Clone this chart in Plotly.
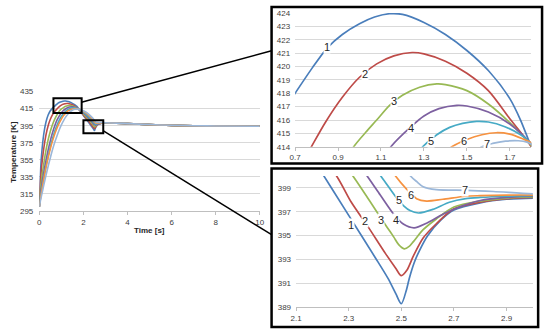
import plotly.graph_objects as go

# ---------------- data ----------------
t1 = [0, 0.05, 0.1, 0.2, 0.3, 0.4, 0.5, 0.6, 0.7, 0.78, 0.85, 0.92, 1.0, 1.07, 1.14, 1.2, 1.3, 1.4, 1.5, 1.6, 1.7, 1.75, 1.8,
      2.0, 2.2, 2.3, 2.4, 2.45, 2.48, 2.5, 2.52, 2.53, 2.55, 2.57, 2.6, 2.65, 2.7, 2.8, 2.9, 3.0, 3.5, 4, 5, 6, 7, 8, 10]
T1 = [300, 338, 360, 385, 399, 407.5, 412.5, 415.6, 418.0, 419.9, 421.4, 422.4, 423.2, 423.7, 423.95, 423.9, 423.3, 422.4,
      421.2, 419.7, 417.6, 416.0, 414.0, 407.0, 400.2, 396.7, 393.2, 391.4, 390.1, 389.3, 390.5, 391.4, 392.8, 393.8, 395.0,
      396.3, 397.15, 397.75, 398.05, 398.15, 397.95, 397.4, 396.3, 395.4, 394.9, 394.6, 394.3]

t2 = [0, 0.05, 0.1, 0.2, 0.3, 0.4, 0.5, 0.6, 0.7, 0.776, 0.84, 0.92, 1.0, 1.08, 1.16, 1.245, 1.3, 1.4, 1.5, 1.6, 1.7, 1.8,
      2.0, 2.254, 2.31, 2.372, 2.44, 2.478, 2.5, 2.521, 2.546, 2.583, 2.633, 2.7, 2.8, 2.9, 3.0, 3.5, 4, 5, 6, 7, 8, 10]
T2 = [300, 330, 346, 368, 384, 395, 402.5, 408, 411.8, 414.0, 415.8, 417.7, 419.2, 420.2, 420.8, 421.05, 420.95, 420.4,
      419.5, 418.2, 416.1, 414.0, 407.7, 400.0, 397.8, 395.8, 393.5, 392.3, 391.65, 392.1, 393.3, 394.8, 396.0, 397.25,
      397.8, 398.1, 398.2, 398.0, 397.4, 396.3, 395.4, 394.9, 394.6, 394.3]

t3 = [0, 0.05, 0.1, 0.2, 0.3, 0.4, 0.5, 0.6, 0.7, 0.8, 0.9, 0.973, 1.03, 1.08, 1.14, 1.2, 1.28, 1.36, 1.4, 1.5, 1.6, 1.7,
      1.8, 2.0, 2.2, 2.316, 2.38, 2.44, 2.471, 2.49, 2.511, 2.53, 2.546, 2.583, 2.633, 2.7, 2.8, 2.9, 3.0, 3.5, 4, 5, 6, 7,
      8, 10]
T3 = [300, 320, 332, 350, 366, 378.5, 388.5, 396.5, 402.8, 407.8, 411.8, 414.0, 415.1, 416.0, 417.1, 417.85, 418.45, 418.7,
      418.65, 418.2, 417.2, 415.8, 414.1, 408.8, 403.4, 400.0, 397.9, 395.9, 394.9, 394.25, 393.9, 394.1, 394.5, 395.5,
      396.4, 397.4, 397.9, 398.15, 398.25, 398.0, 397.4, 396.3, 395.4, 394.9, 394.6, 394.3]

t4 = [0, 0.05, 0.1, 0.2, 0.3, 0.4, 0.5, 0.6, 0.7, 0.8, 0.9, 1.0, 1.07, 1.146, 1.24, 1.3, 1.37, 1.453, 1.5, 1.6, 1.7, 1.8,
      2.0, 2.2, 2.37, 2.42, 2.471, 2.509, 2.549, 2.596, 2.658, 2.72, 2.8, 2.9, 3.0, 3.5, 4, 5, 6, 7, 8, 10]
T4 = [300, 314, 324, 340, 354, 366.5, 377.5, 387, 395, 401.5, 406.3, 410.0, 412.2, 414.0, 415.5, 416.3, 416.85, 417.1,
      417.05, 416.6, 415.7, 414.2, 409.9, 405.1, 400.0, 398.4, 396.8, 395.95, 395.66, 396.05, 396.8, 397.4, 397.95,
      398.2, 398.3, 398.0, 397.4, 396.3, 395.4, 394.9, 394.6, 394.3]

t5 = [0, 0.05, 0.1, 0.2, 0.3, 0.4, 0.5, 0.6, 0.7, 0.8, 0.9, 1.0, 1.1, 1.2, 1.294, 1.36, 1.42, 1.48, 1.545, 1.6, 1.677,
      1.75, 1.8, 2.0, 2.2, 2.422, 2.484, 2.509, 2.533, 2.565, 2.62, 2.683, 2.745, 2.8, 2.9, 3.0, 3.5, 4, 5, 6, 7, 8, 10]
T5 = [300, 311, 319, 334, 347.5, 359.5, 370.5, 380, 388.5, 395.5, 401.3, 405.8, 409.3, 412.0, 414.0, 414.9, 415.45,
      415.75, 415.9, 415.85, 415.5, 414.9, 414.25, 410.9, 406.5, 400.0, 398.1, 397.5, 397.1, 396.9, 397.2, 397.8, 398.1,
      398.2, 398.3, 398.35, 398.0, 397.4, 396.3, 395.4, 394.9, 394.6, 394.3]

t6 = [0, 0.05, 0.1, 0.2, 0.3, 0.4, 0.5, 0.6, 0.7, 0.8, 0.9, 1.0, 1.1, 1.2, 1.3, 1.43, 1.5, 1.57, 1.636, 1.7, 1.76, 1.8,
      2.0, 2.2, 2.35, 2.478, 2.52, 2.558, 2.596, 2.658, 2.745, 2.8, 2.9, 3.0, 3.5, 4, 5, 6, 7, 8, 10]
T6 = [300, 309, 317, 332, 345.5, 357.5, 368, 377.2, 385.3, 392.2, 398, 402.8, 406.8, 410.0, 412.3, 414.0, 414.55, 414.9,
      415.05, 414.95, 414.6, 414.3, 412.0, 408.4, 404.4, 400.0, 398.9, 398.1, 397.9, 398.05, 398.3, 398.35, 398.4, 398.4,
      398.0, 397.4, 396.3, 395.4, 394.9, 394.6, 394.3]

t7 = [0, 0.05, 0.1, 0.2, 0.3, 0.4, 0.5, 0.6, 0.7, 0.8, 0.9, 1.0, 1.1, 1.2, 1.3, 1.4, 1.5, 1.57, 1.62, 1.68, 1.74, 1.78,
      1.8, 2.0, 2.2, 2.4, 2.5, 2.535, 2.56, 2.583, 2.633, 2.75, 2.85, 3.0, 3.5, 4, 5, 6, 7, 8, 10]
T7 = [300, 307, 313, 325, 336.5, 347.5, 357.5, 367, 375.5, 383, 390, 396, 401, 405.3, 408.8, 411.5, 413.2, 414.0, 414.25,
      414.42, 414.45, 414.35, 414.2, 412.5, 409.5, 404.5, 401.2, 400.0, 399.5, 399.1, 398.85, 398.8, 398.7, 398.5, 398.05,
      397.45, 396.35, 395.45, 394.95, 394.65, 394.35]

series_names = ["1", "2", "3", "4", "5", "6", "7"]
series_t = [t1, t2, t3, t4, t5, t6, t7]
series_T = [T1, T2, T3, T4, T5, T6, T7]
colors = ["#4A7EBB", "#BE4B48", "#98B954", "#7D60A0", "#46AAC5", "#F69240", "#9BB7D9"]

main_xticks = [0, 2, 4, 6, 8, 10]
main_yticks = [295, 315, 335, 355, 375, 395, 415, 435]
top_xticks = [0.7, 0.9, 1.1, 1.3, 1.5, 1.7]
top_yticks = [414, 415, 416, 417, 418, 419, 420, 421, 422, 423, 424]
bot_xticks = [2.1, 2.3, 2.5, 2.7, 2.9]
bot_yticks = [389, 391, 393, 395, 397, 399]

# label positions on the curves
top_label_x = [0.849, 1.027, 1.161, 1.24, 1.332, 1.487, 1.595]
top_label_y = [421.45, 419.46, 417.4, 415.4, 414.44, 414.44, 414.2]
bot_label_x = [2.31, 2.361, 2.424, 2.479, 2.49, 2.537, 2.742]
bot_label_y = [395.92, 396.2, 396.28, 396.33, 398.0, 398.42, 398.83]

# ---------------- figure ----------------
W, H = 550, 336
FONT = "Liberation Sans"
fig = go.Figure()

for ax in ["", "2", "3"]:
    for name, t, T, c in zip(series_names, series_t, series_T, colors):
        fig.add_trace(go.Scatter(
            x=t, y=T, mode="lines", name=name, showlegend=False,
            line=dict(color=c, width=1.6 if ax == "" else 1.7, shape="spline", smoothing=0.8),
            xaxis="x" + ax, yaxis="y" + ax, hoverinfo="skip"))


def px(x):
    return x / W


def py(y):
    return 1 - y / H


tickfont = dict(family=FONT, size=8, color="#404040")
grid = "#D9D9D9"

fig.update_layout(
    width=W, height=H, margin=dict(l=0, r=0, t=0, b=0),
    paper_bgcolor="white", plot_bgcolor="white", showlegend=False,
    xaxis=dict(domain=[px(34), px(259)], range=[0, 10], tickvals=main_xticks,
               ticktext=[str(v) for v in main_xticks], showgrid=False, zeroline=False,
               showline=True, linecolor="#BFBFBF", linewidth=1, ticks="outside", ticklen=3,
               tickcolor="#BFBFBF", tickfont=tickfont, anchor="y"),
    yaxis=dict(domain=[py(212.7), py(90)], range=[295, 435], tickvals=main_yticks,
               ticktext=[str(v) for v in main_yticks], showgrid=True, gridcolor=grid, gridwidth=1,
               zeroline=False, showline=False, ticks="", tickfont=tickfont, anchor="x",
               ticklabelstandoff=5),
    xaxis2=dict(domain=[px(295), px(536)], range=[0.7, 1.8], tickvals=top_xticks,
                ticktext=["0.7", "0.9", "1.1", "1.3", "1.5", "1.7"], showgrid=False, zeroline=False,
                showline=True, linecolor="#BFBFBF", ticks="outside", ticklen=3, tickcolor="#BFBFBF",
                tickfont=tickfont, anchor="y2"),
    yaxis2=dict(domain=[py(146.7), py(9.3)], range=[414, 424], tickvals=top_yticks,
                ticktext=[str(v) for v in top_yticks], showgrid=True, gridcolor=grid, zeroline=False,
                showline=False, ticks="", tickfont=tickfont, anchor="x2", ticklabelstandoff=4),
    xaxis3=dict(domain=[px(296), px(537.6)], range=[2.1, 3.0], tickvals=bot_xticks,
                ticktext=["2.1", "2.3", "2.5", "2.7", "2.9"], showgrid=False, zeroline=False,
                showline=True, linecolor="#BFBFBF", ticks="outside", ticklen=3, tickcolor="#BFBFBF",
                tickfont=tickfont, anchor="y3"),
    yaxis3=dict(domain=[py(311.7), py(176.7)], range=[389, 400], tickvals=bot_yticks,
                ticktext=[str(v) for v in bot_yticks], showgrid=True, gridcolor=grid, zeroline=False,
                showline=False, ticks="", tickfont=tickfont, anchor="x3", ticklabelstandoff=4),
)

shapes = []
# zoom rectangles on the main chart
shapes.append(dict(type="rect", xref="x", yref="y", x0=0.64, x1=1.92, y0=410.0, y1=427.3,
                   line=dict(color="black", width=2), layer="above"))
shapes.append(dict(type="rect", xref="x", yref="y", x0=2.0, x1=2.9, y0=386.2, y1=401.5,
                   line=dict(color="black", width=2), layer="above"))
# connectors
shapes.append(dict(type="line", xref="paper", yref="paper", x0=px(77), y0=py(101), x1=px(271), y1=py(48),
                   line=dict(color="black", width=1.5)))
shapes.append(dict(type="line", xref="paper", yref="paper", x0=px(99), y0=py(130), x1=px(271), y1=py(237),
                   line=dict(color="black", width=1.5)))
# panel frames
shapes.append(dict(type="rect", xref="paper", yref="paper", x0=px(271), x1=px(547), y0=py(164), y1=py(3),
                   line=dict(color="black", width=2.5)))
shapes.append(dict(type="rect", xref="paper", yref="paper", x0=px(271), x1=px(543), y0=py(332), y1=py(169),
                   line=dict(color="black", width=2.5)))
fig.update_layout(shapes=shapes)

ann = []
lblfont = dict(family=FONT, size=11, color="#262626")
for n, x, y in zip(series_names, top_label_x, top_label_y):
    ann.append(dict(x=x, y=y, xref="x2", yref="y2", text=n, showarrow=False, font=lblfont,
                    bgcolor="white", borderpad=0))
for n, x, y in zip(series_names, bot_label_x, bot_label_y):
    ann.append(dict(x=x, y=y, xref="x3", yref="y3", text=n, showarrow=False, font=lblfont,
                    bgcolor="white", borderpad=0))
ann.append(dict(x=px(146), y=py(233), xref="paper", yref="paper", xanchor="center", yanchor="middle",
                text="<b>Time [s]</b>", showarrow=False, font=dict(family=FONT, size=8, color="#262626")))
ann.append(dict(x=px(8), y=py(152), xref="paper", yref="paper", xanchor="center", yanchor="middle",
                text="<b>Temperature [K]</b>", showarrow=False, textangle=-90,
                font=dict(family=FONT, size=8, color="#262626")))
fig.update_layout(annotations=ann)

fig.write_html("out.html", config={"displayModeBar": False},
               post_script="document.body.style.margin='0';document.body.style.padding='0';")
